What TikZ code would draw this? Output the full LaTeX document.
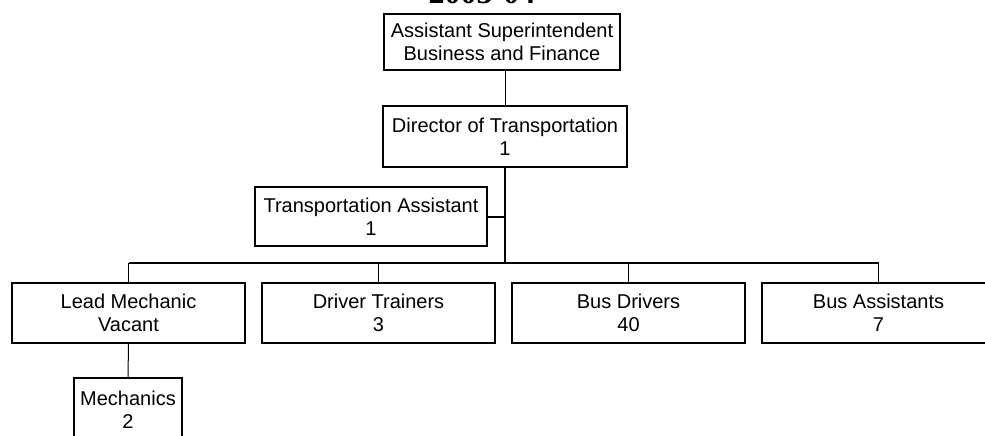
\documentclass[tikz,border=0pt]{standalone}
\usepackage{fontspec}
\setmainfont{Liberation Sans}
\newfontfamily\titlefont{Liberation Serif}
\begin{document}
\begin{tikzpicture}[x=1pt,y=-1pt,
  orgbox/.style={draw, line width=2pt, rectangle, inner sep=0pt, align=center,
    font=\fontsize{20}{23}\selectfont},
  thinlink/.style={line width=1pt},
  thicklink/.style={line width=2pt}]
  \useasboundingbox (0,0) rectangle (985,436);
  \clip (0,0) rectangle (985,436);

  % heading, mostly above the page edge
  \node[anchor=base, inner sep=0pt, font=\titlefont\bfseries\fontsize{32}{36}\selectfont]
    (title) at (482,4) {2003-04};

  % boxes
  \node[orgbox, minimum width=236pt, minimum height=56pt] (top) at (502,42)
    {Assistant Superintendent\\Business and Finance};
  \node[orgbox, minimum width=244pt, minimum height=61pt] (dir) at (505,136.5)
    {Director of Transportation\\1};
  \node[orgbox, minimum width=232pt, minimum height=59pt] (ta) at (371,216.5)
    {Transportation Assistant\\1};
  \node[orgbox, minimum width=233pt, minimum height=60pt] (lead) at (128.5,313)
    {Lead Mechanic\\Vacant};
  \node[orgbox, minimum width=233pt, minimum height=60pt] (dt) at (378.5,313)
    {Driver Trainers\\3};
  \node[orgbox, minimum width=233pt, minimum height=60pt] (bd) at (628.5,313)
    {Bus Drivers\\40};
  \node[orgbox, minimum width=233pt, minimum height=60pt] (ba) at (878.5,313)
    {Bus Assistants\\7};
  \node[orgbox, minimum width=108pt, minimum height=64pt] (mech) at (128,410)
    {Mechanics\\2};

  \coordinate (bar) at (0,263.3);

  % connectors
  \draw[thinlink] (dir.north |- top.south) -- (dir.north);
  \draw[thicklink] (dir.south) -- (dir.south |- bar);
  \draw[thicklink] (ta.east) -- (ta.east -| dir.south);
  \draw[thicklink] (lead.north |- bar) -- (ba.north |- bar);
  \draw[thinlink] (lead.north |- bar) -- (lead.north);
  \draw[thinlink] (dt.north |- bar) -- (dt.north);
  \draw[thinlink] (bd.north |- bar) -- (bd.north);
  \draw[thinlink] (ba.north |- bar) -- (ba.north);
  \draw[thinlink] (lead.south) -- (mech.north);
\end{tikzpicture}
\end{document}
